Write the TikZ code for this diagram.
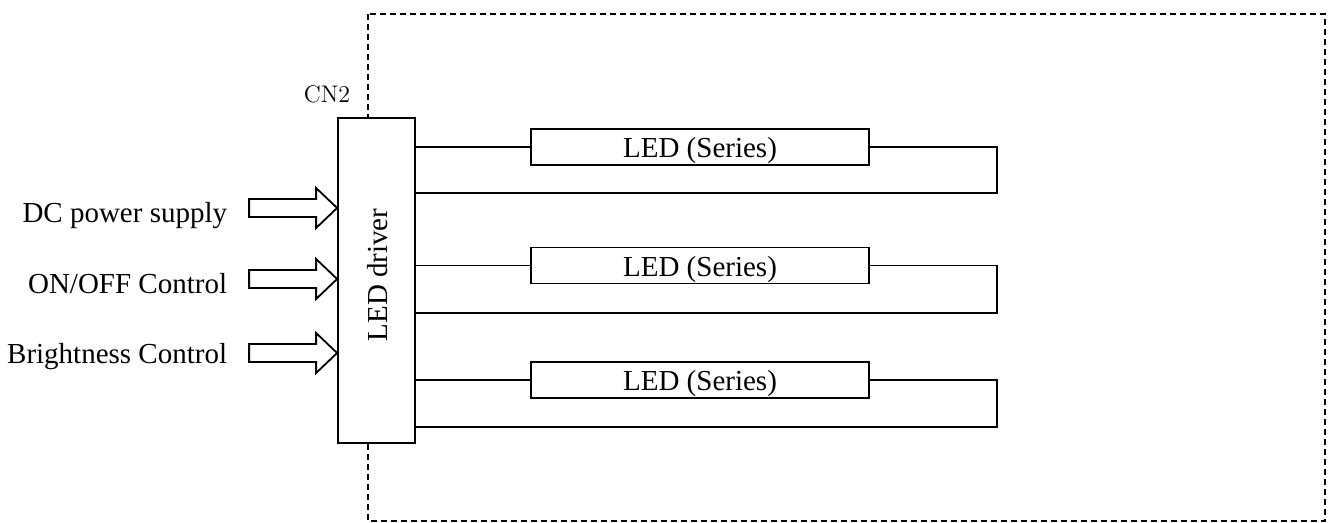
\documentclass[tikz,border=0pt]{standalone}
\usepackage{fontspec}
\newfontfamily\tnr{Liberation Serif}
\begin{document}
\begin{tikzpicture}[x=0.5pt,y=-0.5pt,
  line width=0.9pt,
  lbl/.style={font=\tnr\fontsize{14.5}{16}\selectfont, inner sep=0pt},
  ledbox/.style={draw, fill=white, minimum width=169pt, minimum height=18pt, inner sep=0pt, text height=12pt, text depth=1pt, font=\tnr\fontsize{14.5}{16}\selectfont},
  drvbox/.style={draw, fill=white, minimum width=38.5pt, minimum height=162.5pt, inner sep=0pt},
  board/.style={dash pattern=on 3pt off 2pt, line width=0.9pt},
  inarrow/.style={draw, fill=white, line join=miter}
]
\useasboundingbox (0,0) rectangle (1333,523);
% dashed board outline
\draw[board] (368,14) rectangle (1325,521);
% LED driver
\node[drvbox] (drv) at (376.5,280.5) {};
\node[lbl, rotate=90] (drvt) at (378,275) {LED driver};
\node[font=\fontsize{12}{14}\selectfont, inner sep=0pt, anchor=base] (cn2) at (327,103) {CN2};
% LED strings
\node[ledbox] (led1) at (700,147) {LED (Series)};
\node[ledbox] (led2) at (700,265.5) {LED (Series)};
\node[ledbox] (led3) at (700,380) {LED (Series)};
\coordinate (b1) at (415,193);
\coordinate (b2) at (415,313);
\coordinate (b3) at (415,427);
\coordinate (r1) at (997,147);
\coordinate (r2) at (997,265.5);
\coordinate (r3) at (997,380);
\foreach \i in {1,2,3}{
  \draw (drv.east |- led\i.west) -- (led\i.west);
  \draw (led\i.east) -- (r\i) |- (b\i);
}
% input arrows and labels
\foreach \ty/\bl/\txt/\nm in {208/223/DC power supply/a1, 279/294/ON\slash OFF Control/a2, 353/364/Brightness Control/a3}{
  \coordinate (\nm tip) at (drv.west |- 0,\ty);
  \draw[inarrow] ([shift={(-88,-9)}]\nm tip) -- ([shift={(-21,-9)}]\nm tip) -- ([shift={(-21,-20)}]\nm tip)
     -- (\nm tip) -- ([shift={(-21,20)}]\nm tip) -- ([shift={(-21,9)}]\nm tip) -- ([shift={(-88,9)}]\nm tip) -- cycle;
  \node[lbl, anchor=base east] (\nm l) at (228,\bl) {\txt};
}
\end{tikzpicture}
\end{document}
